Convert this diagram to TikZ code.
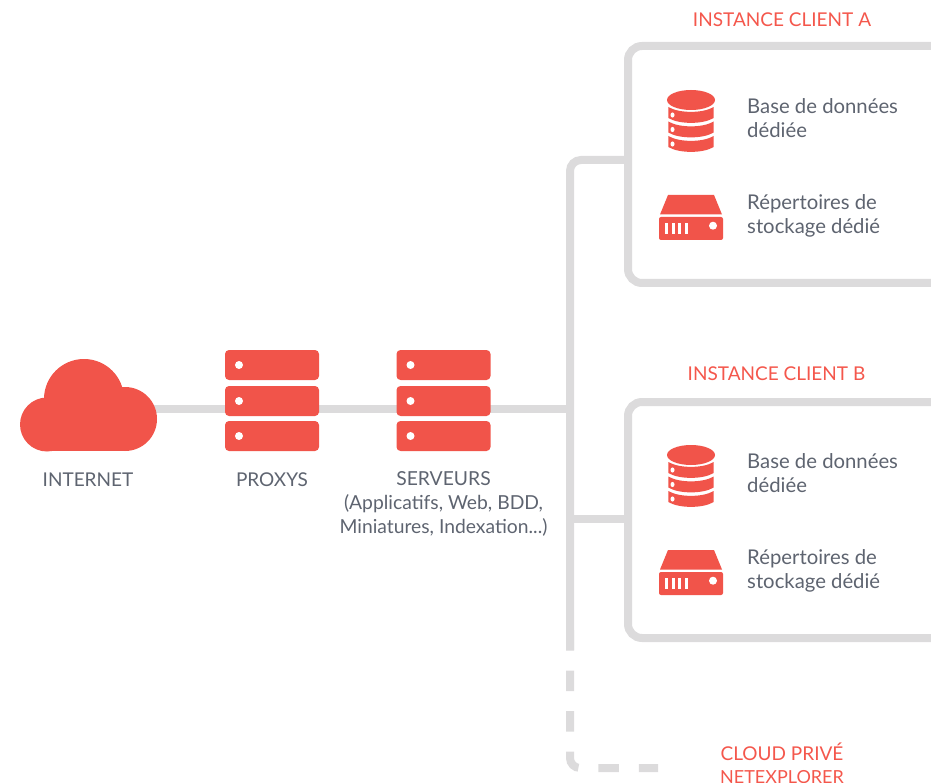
\documentclass[tikz,border=0pt]{standalone}
\usepackage{fontspec}
\setmainfont{Lato}
\definecolor{cred}{HTML}{F1544A}
\definecolor{cgrey}{HTML}{DCDBDC}
\definecolor{ctext}{HTML}{5E6470}
\definecolor{ctitle}{HTML}{F4574C}
\tikzset{
  link/.style={draw=cgrey,line width=8pt},
  dashlink/.style={draw=cgrey,line width=8pt,rounded corners=10pt,dash pattern=on 20.5pt off 20pt},
  panel/.style={draw=cgrey,line width=8pt,rounded corners=14pt,anchor=north west,inner sep=0pt,fill=white},
  txt/.style={text=ctext,font=\fontsize{19}{24}\selectfont,align=center,inner sep=0pt},
  subtxt/.style={text=ctext,font=\fontsize{19.3}{23.7}\selectfont,align=center,inner sep=0pt},
  desc/.style={text=ctext,font=\fontsize{20.3}{24}\selectfont,align=left,anchor=west,inner sep=0pt},
  ttl/.style={text=ctitle,font=\fontsize{19}{23.5}\selectfont,align=center,inner sep=0pt},
  anchorbox/.style={inner sep=0pt,minimum width=#1,minimum height=1pt},
  rackicon/.pic={
    \foreach \yy in {0,36,71}{
      \fill[cred,rounded corners=4pt] (-47,\yy) rectangle (47,\yy+30);
      \fill[white] (-33,\yy+15) circle (4);
    }
  },
  dbicon/.pic={
    \fill[cred] (0,10) ellipse (24 and 10);
    \foreach \yy in {17,31.5,46}{
      \fill[cred] (-22.7,\yy) .. controls (-12,\yy+6.5) and (12,\yy+6.5) .. (22.7,\yy)
        -- (22.7,\yy+11) .. controls (12,\yy+17.5) and (-12,\yy+17.5) .. (-22.7,\yy+11) -- cycle;
      \fill[white] (-18.5,\yy+8) ellipse (2 and 2.6);
    }
  },
  driveicon/.pic={
    \fill[cred] (-23,0) -- (23,0) -- (31,19.5) -- (-31,19.5) -- cycle;
    \fill[cred,rounded corners=2pt] (-32,22) rectangle (32,45);
    \foreach \xx in {-26,-19.5,-13,-6.5}{
      \fill[white] (\xx,28) rectangle (\xx+3.3,39);
    }
    \fill[white] (22,30.7) circle (4);
  },
  cloudicon/.pic={
    \fill[cred] (47,424.5) circle (27) (84,399) circle (40) (125,419) circle (32);
    \fill[cred] (47,410) rectangle (125,451);
  }
}
\begin{document}
\begin{tikzpicture}[x=1pt,y=-1pt]
\useasboundingbox (0,0) rectangle (931,783);
\clip (0,0) rectangle (931,783);
% anchors
\node[anchorbox=137pt] (internet) at (88.5,408.5) {};
\node[anchorbox=94pt] (proxys) at (272,408.5) {};
\node[anchorbox=94pt] (serveurs) at (443.5,408.5) {};
\coordinate (hub) at (570,408.5);
\coordinate (trunkend) at (570,650);
\coordinate (dashstart) at (570,630);
\coordinate (dashcorner) at (570,768);
\coordinate (dashend) at (658,768);
\coordinate (tapA) at (628,160);
\coordinate (tapB) at (628,519);
\coordinate (cornerA) at (570,160);
\coordinate (cornerB) at (570,519);
% connectors
\draw[link] (internet.center) -- (proxys.center) -- (serveurs.center) -- (hub);
\draw[link,rounded corners=11pt] (tapA) -- (cornerA) -- (trunkend);
\draw[link] (tapB) -- (cornerB);
\draw[dashlink] (dashstart) -- (dashcorner) -- (dashend);
% panels
\node[panel,minimum width=340pt,minimum height=237pt] (instA) at (624,42) {};
\node[panel,minimum width=340pt,minimum height=236pt] (instB) at (624,398) {};
% icons
\pic at (0,0) {cloudicon};
\pic at (272,350) {rackicon};
\pic at (443.5,350) {rackicon};
\pic at (691,90) {dbicon};
\pic at (691,195) {driveicon};
\pic at (691,445) {dbicon};
\pic at (691,550) {driveicon};
% labels
\node[txt] (linternet) at (88,480) {INTERNET};
\node[txt] (lproxys) at (272,480) {PROXYS};
\node[subtxt] (lserveurs) at (443.5,504) {SERVEURS\\(Applicatifs, Web, BDD,\\Miniatures, Indexation...)};
\node[ttl] (tA) at (782,19.5) {INSTANCE CLIENT A};
\node[ttl] (tB) at (776.5,373.5) {INSTANCE CLIENT B};
\node[ttl] (tC) at (782,763.5) {CLOUD PRIVÉ\\[-1pt]{\fontsize{18}{22}\selectfont NETEXPLORER}};
\node[desc] (a1) at (747,118) {Base de données\\dédiée};
\node[desc] (a2) at (747,215.5) {Répertoires de\\stockage dédié};
\node[desc] (b1) at (747,473) {Base de données\\dédiée};
\node[desc] (b2) at (747,570.5) {Répertoires de\\stockage dédié};
\end{tikzpicture}
\end{document}
